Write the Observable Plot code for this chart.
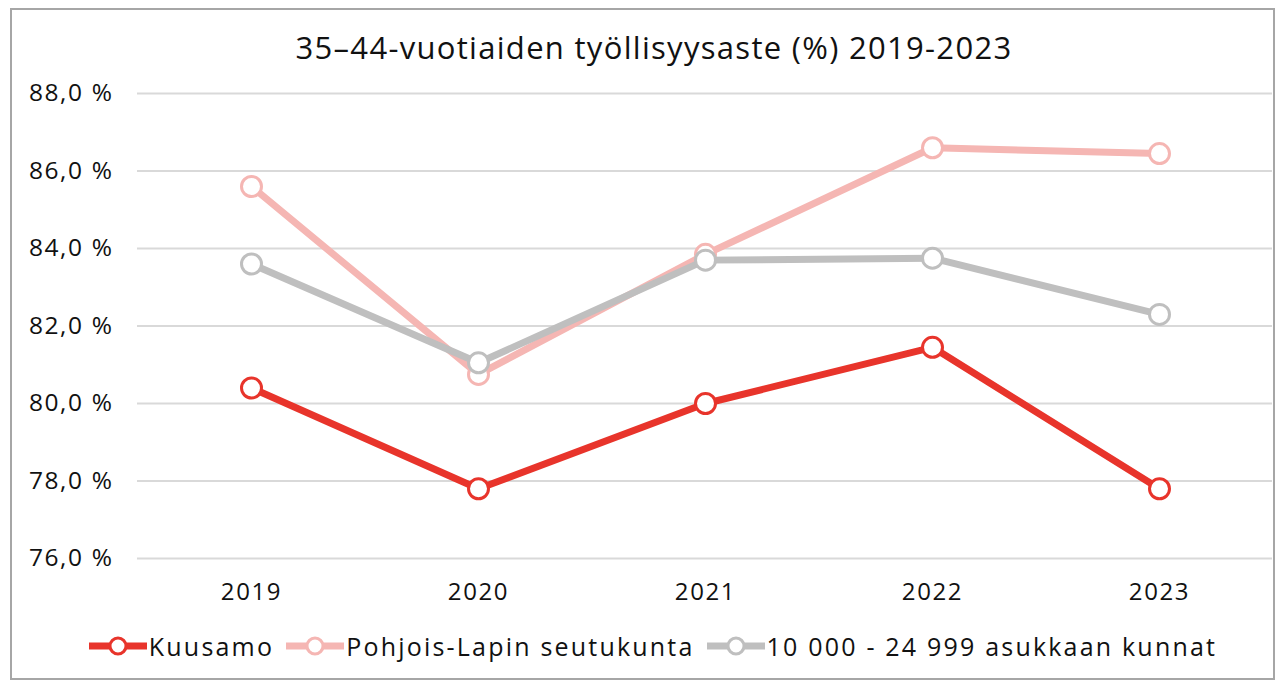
<!DOCTYPE html>
<html>
<head>
<meta charset="utf-8">
<script src="https://cdn.jsdelivr.net/npm/d3@7"></script>
<script src="https://cdn.jsdelivr.net/npm/@observablehq/plot@0.6"></script>
<style>
  html, body { margin: 0; padding: 0; background: #fff; }
  body { width: 1278px; height: 683px; position: relative; overflow: hidden; font-family: "Open Sans", sans-serif; color: #111; }
  #frame { position: absolute; left: 10px; top: 8px; width: 1265px; height: 672px; border: 2px solid #a6a6a6; box-sizing: border-box; }
  #title { position: absolute; left: 0; width: 1278px; top: 26px; text-align: center; font-size: 31px; letter-spacing: 1.3px; line-height: 42px; padding-left: 30px; box-sizing: border-box; white-space: nowrap; }
  #chart { position: absolute; left: 0; top: 75px; }
  #legend { position: absolute; left: 0; width: 1278px; top: 629px; display: flex; justify-content: center; align-items: center; font-size: 25px; letter-spacing: 2.2px; line-height: 34px; padding-left: 28px; box-sizing: border-box; white-space: nowrap; }
  .item { display: flex; align-items: center; margin: 0 6px; }
  .item svg { margin-right: 2px; }
</style>
</head>
<body>
<div id="frame"></div>
<div id="title">35–44-vuotiaiden työllisyysaste (%) 2019-2023</div>
<div id="chart"></div>
<div id="legend"></div>
<script>
const years = ["2019", "2020", "2021", "2022", "2023"];
const seriesNames = ["Kuusamo", "Pohjois-Lapin seutukunta", "10 000 - 24 999 asukkaan kunnat"];
const kuusamo = [80.4, 77.8, 80.0, 81.45, 77.8];
const pohjoisLappi = [85.6, 80.75, 83.85, 86.6, 86.45];
const kunnat = [83.6, 81.05, 83.7, 83.75, 82.3];
const yTicks = [76, 78, 80, 82, 84, 86, 88];
const colors = ["#e8342b", "#f5b6b3", "#bfbfbf"];

const seriesValues = [kuusamo, pohjoisLappi, kunnat];
const data = [];
seriesNames.forEach((name, i) => {
  years.forEach((yr, j) => data.push({series: name, year: yr, value: seriesValues[i][j]}));
});

const fmt = v => d3.format(".1f")(v).replace(".", ",") + " %";

const marks = [
  Plot.gridY(yTicks, {stroke: "#d9d9d9", strokeOpacity: 1, strokeWidth: 2})
];
seriesNames.forEach((name, i) => {
  const d = data.filter(r => r.series === name);
  marks.push(Plot.line(d, {x: "year", y: "value", stroke: colors[i], strokeWidth: 7, strokeLinecap: "butt"}));
  marks.push(Plot.dot(d, {x: "year", y: "value", r: 10, fill: "white", stroke: colors[i], strokeWidth: 3}));
});
marks.push(Plot.axisY(yTicks, {tickSize: 0, tickPadding: 24, tickFormat: fmt, fontSize: 24.5, fill: "#111", textAnchor: "end"}));
marks.push(Plot.axisX({tickSize: 0, tickPadding: 24, fontSize: 24, fill: "#111"}));

const chart = Plot.plot({
  width: 1278,
  height: 540,
  marginTop: 18,
  marginBottom: 57,
  marginLeft: 137,
  marginRight: 6,
  style: {fontFamily: "Open Sans, sans-serif", background: "transparent", letterSpacing: "1.6px"},
  x: {type: "point", domain: years, padding: 0.5, label: null},
  y: {domain: [76, 88], label: null},
  marks
});
document.getElementById("chart").appendChild(chart);

const legend = document.getElementById("legend");
seriesNames.forEach((name, i) => {
  const item = document.createElement("div");
  item.className = "item";
  item.innerHTML = `<svg width="58" height="24"><line x1="0" x2="58" y1="12" y2="12" stroke="${colors[i]}" stroke-width="7" stroke-linecap="round"/><circle cx="29" cy="12" r="8" fill="white" stroke="${colors[i]}" stroke-width="3"/></svg><span>${name}</span>`;
  legend.appendChild(item);
});
</script>
</body>
</html>
